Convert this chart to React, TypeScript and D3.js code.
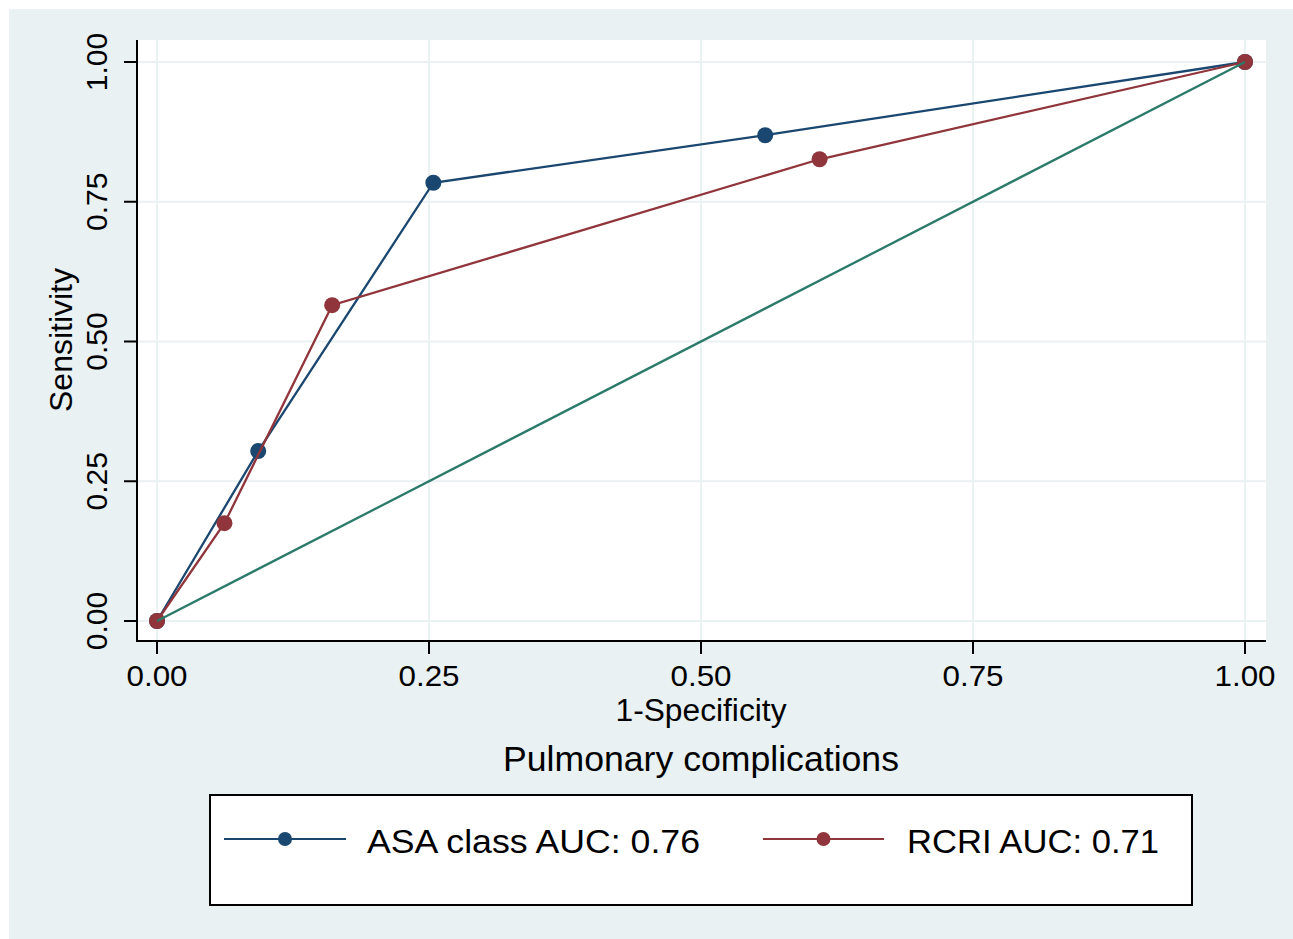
import * as d3 from "d3";

const W = 1293;
const H = 939;

// ROC points
const asaX = [0, 0.093, 0.254, 0.559, 1];
const asaY = [0, 0.304, 0.784, 0.869, 1];
const rcriX = [0, 0.062, 0.161, 0.609, 1];
const rcriY = [0, 0.175, 0.565, 0.826, 1];
const refX = [0, 1];
const refY = [0, 1];

const ticks = [0, 0.25, 0.5, 0.75, 1];
const tickLabels = ["0.00", "0.25", "0.50", "0.75", "1.00"];

const legendLabels = ["ASA class AUC: 0.76", "RCRI AUC: 0.71"];

const NAVY = "#1a476f";
const MAROON = "#90353b";
const TEAL = "#2b7a6a";
const BG = "#e9f1f3";
const FONT = "'Liberation Sans', Arial, Helvetica, sans-serif";

const PLOT = { left: 137, right: 1266, top: 40, bottom: 641 };

const zip = (xs: number[], ys: number[]) => xs.map((x, i) => ({ x, y: ys[i] }));

export default function App() {
  const x = d3.scaleLinear().domain([0, 1]).range([157, 1245]);
  const y = d3.scaleLinear().domain([0, 1]).range([621, 62]);

  const line = d3
    .line<{ x: number; y: number }>()
    .x((d) => x(d.x))
    .y((d) => y(d.y));

  const asa = zip(asaX, asaY);
  const rcri = zip(rcriX, rcriY);
  const ref = zip(refX, refY);

  const legendItems = [
    { label: legendLabels[0], color: NAVY, x0: 224, x1: 346, tx: 367, len: 333 },
    { label: legendLabels[1], color: MAROON, x0: 763, x1: 884, tx: 907, len: 252 },
  ];

  return (
    <svg
      width={W}
      height={H}
      style={{ position: "absolute", left: 0, top: 0 }}
      fontFamily={FONT}
    >
      <rect x={0} y={0} width={W} height={H} fill="#ffffff" />
      <rect x={9} y={9} width={W - 9} height={H - 9} fill={BG} />
      <rect
        x={PLOT.left}
        y={PLOT.top}
        width={PLOT.right - PLOT.left}
        height={PLOT.bottom - PLOT.top}
        fill="#ffffff"
      />

      {/* grid */}
      {ticks.map((t) => (
        <g key={"g" + t}>
          <line x1={PLOT.left} x2={PLOT.right} y1={y(t)} y2={y(t)} stroke={BG} strokeWidth={2} />
          <line x1={x(t)} x2={x(t)} y1={PLOT.top} y2={PLOT.bottom} stroke={BG} strokeWidth={2} />
        </g>
      ))}

      {/* series */}
      <path d={line(asa) || ""} fill="none" stroke={NAVY} strokeWidth={2.3} />
      {asa.map((d, i) => (
        <circle key={"a" + i} cx={x(d.x)} cy={y(d.y)} r={8} fill={NAVY} />
      ))}
      <path d={line(rcri) || ""} fill="none" stroke={MAROON} strokeWidth={2.3} />
      {rcri.map((d, i) => (
        <circle key={"r" + i} cx={x(d.x)} cy={y(d.y)} r={8} fill={MAROON} />
      ))}
      <path d={line(ref) || ""} fill="none" stroke={TEAL} strokeWidth={2.3} />

      {/* axes */}
      <line x1={PLOT.left} x2={PLOT.left} y1={PLOT.top} y2={PLOT.bottom + 1} stroke="#000" strokeWidth={2} />
      <line x1={PLOT.left - 1} x2={PLOT.right} y1={PLOT.bottom} y2={PLOT.bottom} stroke="#000" strokeWidth={2} />
      {ticks.map((t, i) => (
        <g key={"t" + t}>
          <line x1={x(t)} x2={x(t)} y1={PLOT.bottom} y2={PLOT.bottom + 13} stroke="#000" strokeWidth={2} />
          <text x={x(t)} y={686} textAnchor="middle" fontSize={30} textLength={61} lengthAdjust="spacingAndGlyphs">
            {tickLabels[i]}
          </text>
          <line x1={PLOT.left - 13} x2={PLOT.left} y1={y(t)} y2={y(t)} stroke="#000" strokeWidth={2} />
          <text
            transform={`translate(107,${y(t)}) rotate(-90)`}
            textAnchor="middle"
            fontSize={30}
          >
            {tickLabels[i]}
          </text>
        </g>
      ))}

      <text x={x(0.5)} y={721} textAnchor="middle" fontSize={31} textLength={171} lengthAdjust="spacingAndGlyphs">
        1-Specificity
      </text>
      <text transform="translate(72,340) rotate(-90)" textAnchor="middle" fontSize={31} textLength={144} lengthAdjust="spacingAndGlyphs">
        Sensitivity
      </text>
      <text x={x(0.5)} y={771} textAnchor="middle" fontSize={35} textLength={396} lengthAdjust="spacingAndGlyphs">
        Pulmonary complications
      </text>

      {/* legend */}
      <rect x={210} y={795} width={982} height={110} fill="#ffffff" stroke="#000" strokeWidth={2} />
      {legendItems.map((it) => (
        <g key={it.label}>
          <line x1={it.x0} x2={it.x1} y1={839} y2={839} stroke={it.color} strokeWidth={2} />
          <circle cx={(it.x0 + it.x1) / 2} cy={839} r={7} fill={it.color} />
          <text x={it.tx} y={853} fontSize={33} textLength={it.len} lengthAdjust="spacingAndGlyphs">
            {it.label}
          </text>
        </g>
      ))}
    </svg>
  );
}
